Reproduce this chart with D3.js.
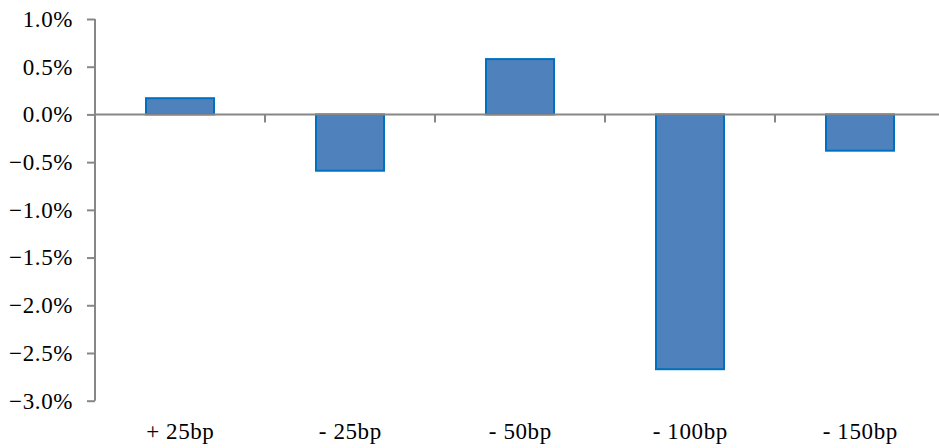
<!DOCTYPE html>
<html>
<head>
<meta charset="utf-8">
<script src="https://cdn.jsdelivr.net/npm/d3@7"></script>
<style>
  html, body { margin: 0; padding: 0; background: #ffffff; }
  svg text { font-family: "Liberation Serif", "Times New Roman", serif; fill: #000; letter-spacing: 0.6px; }
</style>
</head>
<body>
<svg id="chart" width="939" height="448"></svg>
<script>
// Rate shock scenarios and the resulting change (as fractions)
const scenarios = ["+ 25bp", "- 25bp", "- 50bp", "- 100bp", "- 150bp"];
const changes = [0.0017, -0.0059, 0.0058, -0.0267, -0.0038];
const yTicks = [0.01, 0.005, 0, -0.005, -0.01, -0.015, -0.02, -0.025, -0.03];

const svg = d3.select("#chart");
const plotLeft = 95, plotRight = 945, plotTop = 19, plotBottom = 400.7;

const x = d3.scaleBand().domain(scenarios).range([plotLeft, plotRight]).paddingInner(0.6).paddingOuter(0.3);
const y = d3.scaleLinear().domain([-0.03, 0.01]).range([plotBottom, plotTop]);

const axisColor = "#878787";
const fmt = d3.format(".1%");

// bars
svg.append("g").selectAll("rect")
  .data(scenarios.map((s, i) => ({ s, v: changes[i] })))
  .join("rect")
  .attr("x", d => x(d.s))
  .attr("width", x.bandwidth())
  .attr("y", d => y(Math.max(0, d.v)))
  .attr("height", d => Math.abs(y(d.v) - y(0)))
  .attr("fill", "#4F81BD")
  .attr("stroke", "#0070C0")
  .attr("stroke-width", 2);

// y axis
const yAxis = svg.append("g")
  .attr("transform", `translate(${plotLeft},0)`)
  .call(d3.axisLeft(y).tickValues(yTicks).tickFormat(fmt).tickSize(8).tickPadding(14));
yAxis.select(".domain").attr("stroke", axisColor).attr("stroke-width", 2)
  .attr("d", `M0,${plotTop}V${plotBottom}`);
yAxis.selectAll(".tick line").attr("stroke", axisColor).attr("stroke-width", 2);
yAxis.selectAll(".tick text").attr("font-size", 23).attr("fill", "#000")
  .attr("font-family", null);

// horizontal zero axis with category boundary ticks
const xg = svg.append("g");
xg.append("line")
  .attr("x1", plotLeft).attr("x2", plotRight)
  .attr("y1", y(0)).attr("y2", y(0))
  .attr("stroke", axisColor).attr("stroke-width", 2);
const step = x.step();
const bounds = d3.range(1, scenarios.length + 1).map(i => plotLeft + i * step);
xg.selectAll("line.tk").data(bounds).join("line").attr("class", "tk")
  .attr("x1", d => d).attr("x2", d => d)
  .attr("y1", y(0)).attr("y2", y(0) + 8)
  .attr("stroke", axisColor).attr("stroke-width", 2);

// category labels along the bottom
svg.append("g").selectAll("text")
  .data(scenarios)
  .join("text")
  .attr("x", d => x(d) + x.bandwidth() / 2 + 0.3)
  .attr("y", 439)
  .attr("text-anchor", "middle")
  .attr("font-size", 23)
  .text(d => d);
</script>
</body>
</html>
